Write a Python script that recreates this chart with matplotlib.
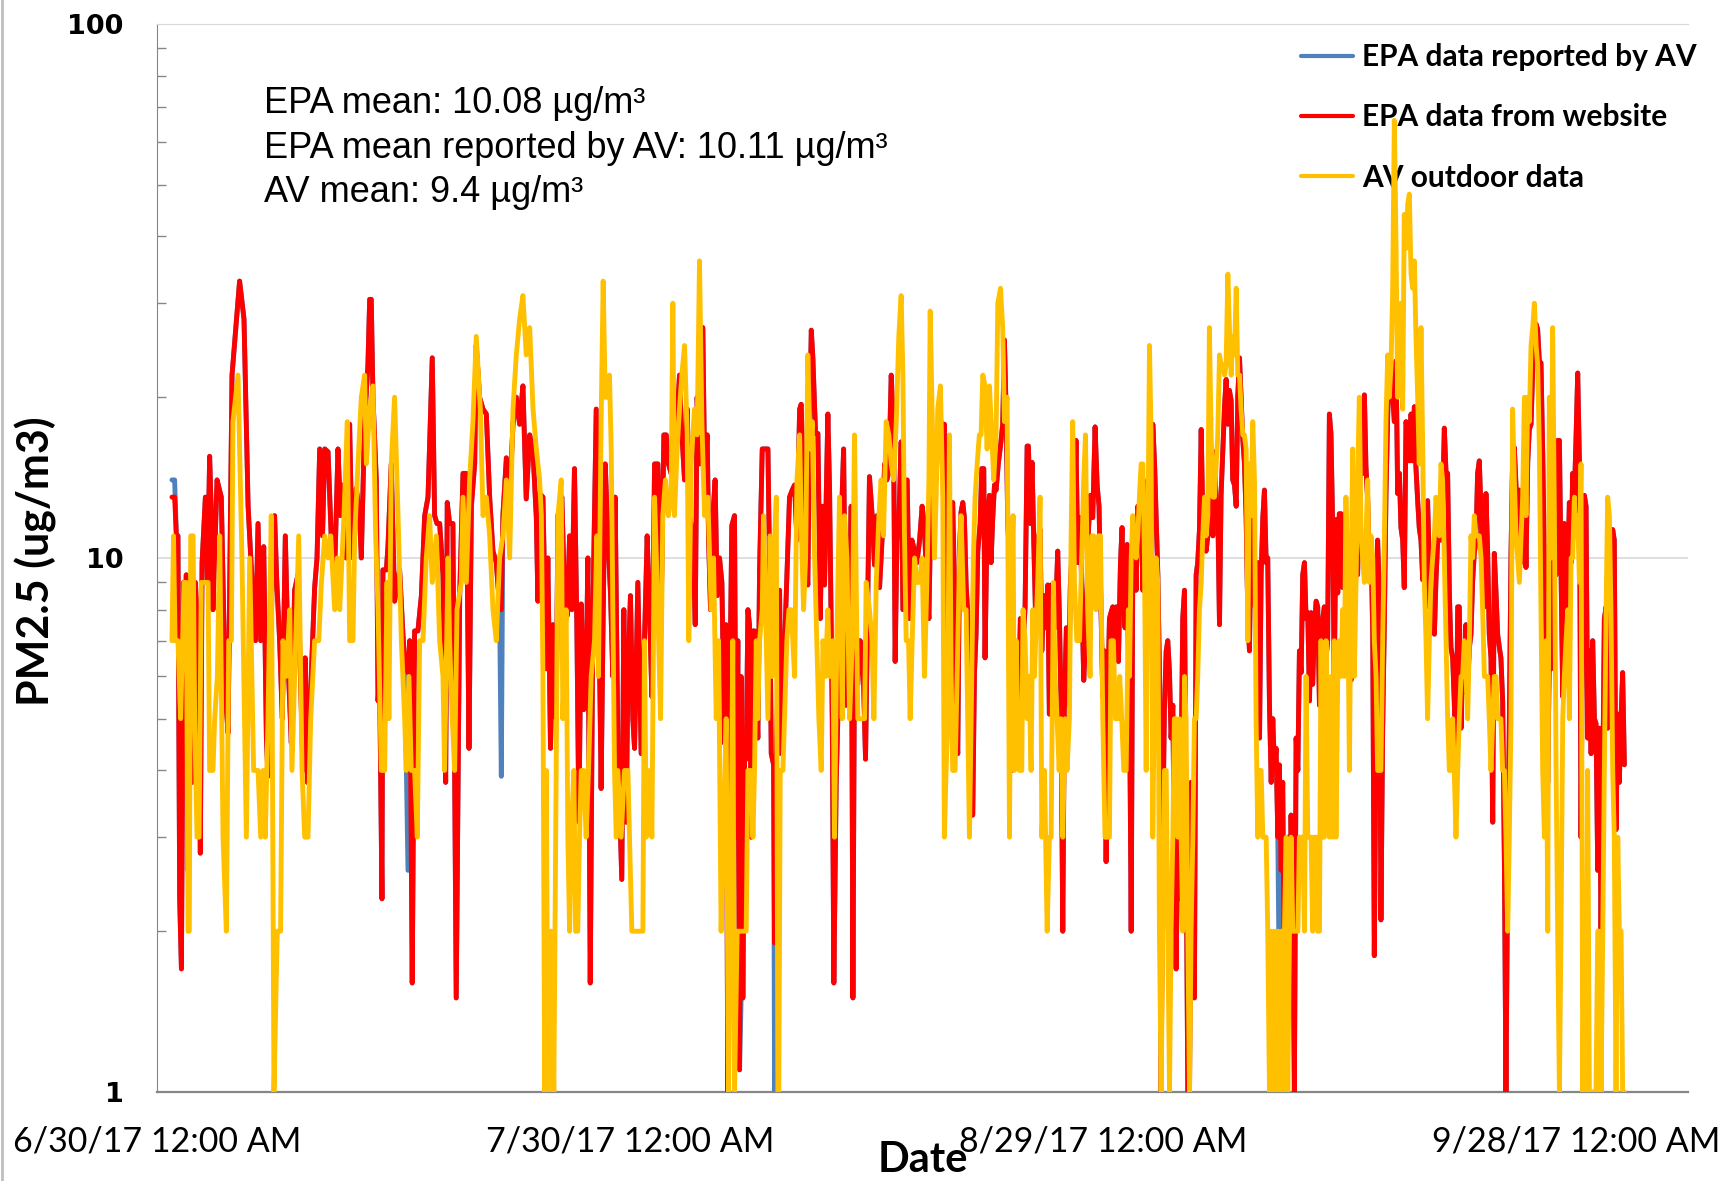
import matplotlib
matplotlib.use("Agg")
import matplotlib.pyplot as plt
from matplotlib.lines import Line2D
from matplotlib.ticker import FixedLocator, NullFormatter

# time axis: days after 6/30/17 12:00 AM
tick_days = [0, 30, 60, 90]
tick_labels = ["6/30/17 12:00 AM", "7/30/17 12:00 AM",
               "8/29/17 12:00 AM", "9/28/17 12:00 AM"]

# Sep/Oct stretch, both monitors read at the same times
tail_days = [
    61.68, 61.79, 61.89, 62.00, 62.10, 62.21, 62.31, 62.42, 62.53, 62.63,
    62.74, 62.84, 62.95, 63.05, 63.16, 63.27, 63.37, 63.48, 63.58, 63.69,
    63.79, 63.90, 64.01, 64.11, 64.22, 64.32, 64.43, 64.53, 64.64, 64.75,
    64.85, 64.96, 65.06, 65.17, 65.27, 65.38, 65.49, 65.59, 65.70, 65.80,
    65.91, 66.01, 66.12, 66.23, 66.33, 66.44, 66.54, 66.65, 66.75, 66.86,
    66.97, 67.07, 67.18, 67.28, 67.39, 67.49, 67.60, 67.71, 67.81, 67.92,
    68.02, 68.13, 68.23, 68.34, 68.45, 68.55, 68.66, 68.76, 68.87, 68.97,
    69.08, 69.19, 69.29, 69.40, 69.50, 69.61, 69.71, 69.82, 69.93, 70.03,
    70.14, 70.24, 70.35, 70.45, 70.56, 70.67, 70.77, 70.88, 70.98, 71.09,
    71.19, 71.30, 71.40, 71.51, 71.62, 71.72, 71.83, 71.93, 72.04, 72.14,
    72.25, 72.36, 72.46, 72.57, 72.67, 72.78, 72.88, 72.99, 73.10, 73.20,
    73.30, 73.41, 73.52, 73.62, 73.73, 73.83, 73.94,
    74.04, 74.15, 74.25, 74.36, 74.46, 74.57, 74.67, 74.78, 74.89, 74.99,
    75.10, 75.20, 75.31, 75.41, 75.52, 75.63, 75.73, 75.84, 75.94, 76.05,
    76.15, 76.26, 76.37, 76.47, 76.58, 76.68, 76.79, 76.89, 77.00, 77.11,
    77.21, 77.32, 77.42, 77.53, 77.63, 77.74, 77.85, 77.95, 78.06, 78.16,
    78.27, 78.37, 78.48, 78.59, 78.69, 78.80, 78.90, 79.01, 79.11, 79.22,
    79.33, 79.43, 79.54, 79.64, 79.75, 79.85, 79.96, 80.06, 80.17, 80.28,
    80.38, 80.49, 80.59, 80.70, 80.80, 80.91, 81.02, 81.12, 81.23, 81.33,
    81.44, 81.54, 81.65, 81.76, 81.86, 81.97, 82.07, 82.18, 82.28, 82.39,
    82.50, 82.60, 82.71, 82.81, 82.92, 83.02, 83.13, 83.24, 83.34, 83.45,
    83.55, 83.66, 83.76, 83.87, 83.98, 84.08, 84.19, 84.29, 84.40, 84.50,
    84.61, 84.72, 84.82, 84.93, 85.03, 85.14, 85.24, 85.35, 85.46, 85.56,
    85.67, 85.77, 85.88, 85.98, 86.09, 86.20, 86.30,
    86.41, 86.52, 86.62, 86.73, 86.83, 86.94, 87.04, 87.15, 87.26, 87.36,
    87.47, 87.57, 87.68, 87.78, 87.89, 88.00, 88.10, 88.21, 88.31, 88.42,
    88.52, 88.63, 88.74, 88.84, 88.95, 89.05, 89.16, 89.26, 89.37, 89.48,
    89.58, 89.69, 89.79, 89.90, 90.00, 90.11, 90.22, 90.32, 90.43, 90.53,
    90.64, 90.74, 90.85, 90.96, 91.06, 91.17, 91.27, 91.38, 91.48, 91.59,
    91.70, 91.80, 91.91, 92.01, 92.12, 92.22, 92.33, 92.43, 92.54, 92.65,
    92.75, 92.86, 92.96, 93.07,
]

# EPA monitor timestamps
epa_days = [
    0.95, 1.12, 1.23, 1.33, 1.44, 1.55, 1.69, 1.77, 1.86, 1.97,
    2.12, 2.24, 2.43, 2.60, 2.75, 2.86, 3.07, 3.20, 3.34, 3.45,
    3.55, 3.81, 4.08, 4.34, 4.51, 4.76, 5.24, 5.52, 5.78, 5.95,
    6.05, 6.25, 6.41, 6.58, 6.77, 6.94, 7.04, 7.19, 7.30, 7.46,
    7.60, 7.78, 7.95, 8.14, 8.35, 8.52, 8.73, 8.94, 9.10, 9.26,
    9.40, 9.54, 9.68, 10.0, 10.15, 10.32, 10.50, 10.64, 10.85, 11.06,
    11.25, 11.48, 11.65, 11.80, 12.0, 12.22,
    12.33, 12.43, 12.64, 12.85, 12.96, 13.17, 13.38, 13.49, 13.59, 13.70,
    13.91, 14.02, 14.12, 14.27, 14.33, 14.55, 14.65, 14.86, 15.07, 15.39,
    15.60, 15.71, 15.92, 16.03, 16.19, 16.34, 16.55, 16.77, 16.98, 17.19,
    17.46, 17.61, 17.76, 17.93, 18.14, 18.31, 18.41, 18.56, 18.77, 18.98,
    19.20, 19.41, 19.62, 19.79, 19.94, 20.15, 20.25, 20.46, 20.68, 20.89,
    21.10, 21.31, 21.52, 21.73, 21.84, 21.94, 22.16, 22.37, 22.58, 22.79,
    23.00, 23.21, 23.42, 23.64, 23.85, 24.06, 24.16, 24.27, 24.48,
    24.69, 24.79, 24.96, 25.11, 25.32, 25.43, 25.68, 25.85, 26.02, 26.17,
    26.31, 26.48, 26.63, 26.76, 26.91, 27.07, 27.22, 27.33, 27.48, 27.65,
    27.86, 28.03, 28.17, 28.28, 28.43, 28.60, 28.77, 28.91, 29.06, 29.23,
    29.48, 29.61, 29.76, 29.87, 30.03, 30.18, 30.29, 30.50, 30.71, 30.92,
    31.09, 31.24, 31.39, 31.56, 31.77, 31.98, 32.15, 32.30, 32.44, 32.72,
    32.93, 33.14, 33.25, 33.46, 33.63, 33.78, 33.99, 34.14, 34.26, 34.41,
    34.62, 34.73, 34.90, 34.98, 35.11, 35.26, 35.40, 35.53, 35.68, 35.83,
    35.99, 36.10, 36.20, 36.31, 36.46, 36.63, 36.74, 36.84, 36.95, 37.05,
    37.16, 37.27, 37.37, 37.48, 37.58, 37.69, 37.80, 37.90, 38.11, 38.22,
    38.39, 38.54, 38.75, 38.85, 38.96, 39.11, 39.17, 39.28, 39.49, 39.59,
    39.74, 39.91, 40.12, 40.29, 40.44, 40.59, 40.76, 40.86, 40.97, 41.07,
    41.28, 41.39, 41.50, 41.60, 41.77, 41.92, 42.07, 42.19, 42.34, 42.55,
    42.66, 42.83, 42.93, 43.08, 43.25, 43.40, 43.55, 43.71, 43.88, 44.03,
    44.14, 44.24, 44.45, 44.60, 44.77, 44.94, 45.09, 45.19, 45.36, 45.51,
    45.66, 45.83, 46.00, 46.15, 46.29, 46.42, 46.57, 46.72, 46.82, 46.93,
    47.05, 47.20, 47.31, 47.41, 47.58, 47.73, 47.88, 48.05, 48.20, 48.37,
    48.53, 48.68, 48.83, 48.96, 49.11, 49.25,
    49.31, 49.42, 49.52, 49.69, 49.84, 49.94, 50.05, 50.16, 50.26, 50.37,
    50.47, 50.58, 50.68, 50.79, 50.90, 51.00, 51.11, 51.21, 51.32, 51.42,
    51.53, 51.64, 51.74, 51.85, 51.95, 52.06, 52.21, 52.31, 52.44, 52.52,
    52.65, 52.80, 52.90, 53.01, 53.12, 53.22, 53.37, 53.50, 53.64, 53.75,
    53.86, 53.96, 54.13, 54.21, 54.34, 54.49, 54.64, 54.76, 54.91, 55.06,
    55.19, 55.27, 55.40, 55.50, 55.61, 55.72, 55.86, 56.01, 56.12, 56.24,
    56.37, 56.50, 56.60, 56.71, 56.81, 56.96, 57.13, 57.24, 57.34, 57.45,
    57.55, 57.68, 57.81, 57.93, 58.08, 58.19, 58.29, 58.40, 58.55, 58.68,
    58.78, 58.93, 59.08, 59.20, 59.35, 59.50, 59.63, 59.75, 59.88, 59.99,
    60.09, 60.20, 60.30, 60.41, 60.51, 60.62, 60.73, 60.85, 60.98, 61.11,
    61.21, 61.32, 61.40, 61.53, 61.63,
] + tail_days

# EPA data from website, ug/m3
epa_site = [
    13, 13, 11, 11, 2.3, 1.7, 9, 6, 9.3, 2.6,
    4.8, 3.8, 9, 7.4, 2.8, 9.8, 13, 9, 15.5, 12,
    8, 14, 13, 5.5, 4.7, 22, 33, 28, 12.5, 10,
    8.9, 7, 11.6, 7, 10.5, 4.6, 3.9, 6, 9, 12,
    9, 7, 5, 11, 6, 4.5, 8.7, 9.3, 6, 4,
    6.5, 3.8, 5, 8.8, 10, 16, 11, 16, 15.8, 10.8,
    9, 16, 12, 13.7, 10, 17.8,
    12, 10, 13.5, 12, 10, 18, 23, 30.5, 30.5, 20,
    14, 5.4, 6, 2.3, 9.5, 9.5, 10.5, 15, 8.3, 9.5,
    7.2, 6.4, 6.1, 7, 1.6, 7.3, 7.3, 8.5, 12, 13,
    23.7, 12, 11.6, 11.6, 9.3, 3.8, 12.7, 11.6, 11.6, 1.5,
    8.5, 14.4, 14.4, 4.4, 12.5, 15, 25, 20, 19, 18.6,
    13, 10.3, 9.8, 8.1, 8, 12, 15.4, 13, 17.8, 20,
    17.8, 21, 12.9, 17, 15.8, 11.9, 8.3, 13.2, 13,
    6.2, 10, 4.4, 7.5, 5, 12, 13, 8.5, 7.8, 11,
    8, 14.7, 7.5, 3.2, 8.2, 5.2, 6, 10, 1.6, 8,
    19, 8, 3.7, 7, 15, 11, 8.5, 6, 13, 4.5,
    2.5, 8, 3.2, 6, 8.5, 5, 4.4, 9, 4.3, 7,
    11, 8, 5.5, 15, 15, 8, 17, 17, 15, 14,
    17, 22, 18, 14, 19, 12, 11, 7.5, 20, 15,
    27, 15, 17, 11, 8, 12, 14, 8.5, 10, 9,
    4.5, 7.5, 1, 5, 11.5, 12, 3, 7, 1.1, 6,
    1.5, 4.2, 4.2, 8, 7.5, 3, 7.3, 7.3, 4.6, 9.5,
    16, 16, 16, 9.8, 4.3, 4.1, 1.9, 4.1, 8.7, 4.3,
    6, 8.5, 13, 13.4, 13.7, 10.8, 19, 19.4, 14.7, 10.8,
    8.9, 17.5, 26.7, 23.7, 17.1, 17.1, 7.7, 12.5, 8.9, 18.6,
    13.4, 5, 1.6, 3.8, 6, 11.6, 16, 5.3, 5.3, 12.5,
    1.5, 6.8, 5.8, 7, 6.6, 4.2, 8.8, 14.2, 12, 9.7,
    12, 8.8, 11, 15, 14, 14.5, 22, 17.1, 6.4, 10.8,
    11.6, 16.5, 8, 9.8, 14, 7.7, 10.8, 10.3, 9.8, 10.8,
    12.5, 11.4, 8.7, 7.7, 14, 14.2,
    15.1, 14, 17.4, 18.3, 16.6, 17.8, 8.7, 7, 4.7, 11.9,
    12.7, 8.9, 5, 4.3, 10.3, 12.2, 12.7, 11.9, 8.9, 7.9,
    6.4, 3.3, 3.3, 6.1, 7.2, 10.3, 11.6, 14.7, 14.7, 6.5,
    11.6, 13.1, 9.8, 11.9, 13.7, 13.4, 15.1, 16.2, 17.8, 25.6,
    18.7, 11.6, 9.3, 4, 6.4, 4.8, 5.1, 7.7, 6.7, 8.1,
    16.2, 16.2, 11.6, 15.1, 10.8, 7.9, 10.8, 11.3, 6.7, 8.5,
    7.4, 8.9, 5.1, 8.9, 7.9, 7.4, 10.3, 7.7, 5.3, 2,
    5.3, 7.4, 5.3, 8.9, 10.8, 11.9, 16.6, 9.8, 11.9, 8.1,
    5.9, 7.4, 11.3, 13.1, 11.9, 17.6, 13.7, 12.5, 7.9, 5.5,
    6.7, 2.7, 5.3, 7.7, 7.9, 8.1, 6.7, 8.1, 6.4, 9.8,
    11.4, 8.1, 7.4, 10.6, 5.9,
    5.8, 2, 9.5, 11.3, 8.7, 12.5, 11.9, 12.7, 8.7, 11,
    10.8, 14, 13.1, 9.3, 17.8, 15.1, 11.9, 9.3, 6.2, 1,
    3, 5.3, 6.7, 7, 6.1, 4.6, 5.3, 2.7, 1.7, 3,
    2.3, 4.1, 7.7, 8.7, 3, 1, 1, 3.8, 3, 1.5,
    9.3, 9.8, 11.3, 17.4, 11.9, 12.5, 10.3, 11, 12.5, 15.1,
    11, 15.8, 12.7, 12.5, 7.5, 13.1, 15.8, 19.2, 21.6, 17.8,
    20.6, 19.7, 14, 13.7, 12.5, 20.1, 23.7, 20.1, 16.6, 15.1,
    11.9, 7.7, 6.7, 11.3, 13.1, 8.5, 7.7, 9.8, 4.6, 9.3,
    11.9, 13.4, 9.8, 10, 5.3, 3.8, 5, 4, 4.4, 3,
    4.1, 2.6, 3.8, 1.5, 2.4, 3, 1.8, 3.3, 2.3, 1,
    4.6, 4, 6.7, 6.1, 9.3, 9.8, 7.7, 7.9, 5.4, 7.9,
    5.8, 7.4, 8.3, 8.1, 5.3, 7.4, 7.7,
    8.1, 6.5, 7, 18.6, 17.1, 11.4, 5.9, 11.8, 8.6, 12.1,
    12.1, 8.8, 12.1, 9.6, 8.3, 7, 5.9, 7.9, 11.4, 9.6,
    9.3, 12.8, 19.2, 14.4, 20.2, 14.8, 12.8, 9.6, 10.8, 7.2,
    1.8, 4.8, 10.8, 8.6, 2.1, 4.8, 7.7, 13.2, 18.6, 22.7,
    21.4, 20.2, 18, 23.4, 13.2, 14.4, 11.4, 10.8, 8.8, 18,
    17.1, 15.2, 18.6, 15.2, 19.2, 14.8, 12.8, 11.4, 10.8, 9.1,
    9.6, 8.1, 12.8, 9.6, 8.6, 7.7, 7.2, 9.1, 10.8, 11.4,
    10.8, 12.4, 17.5, 14.4, 14.4, 8.6, 6.8, 6.5, 5.4, 3.9,
    8.1, 8.1, 4.8, 6.5, 5.6, 7.5, 5.8, 6.8, 7.2, 9.1,
    10.2, 10.8, 14.4, 15.2, 12.1, 9.6, 8.1, 13.2, 10.2, 7.2,
    6.5, 3.2, 10.2, 8.6, 7.2, 6.8, 6.5, 5.4, 2.7, 1,
    2.7, 4.8, 10.2, 15.2, 16.1, 13.6, 11.4,
    13.4, 9.8, 10.8, 13.1, 9.6, 15.1, 17.4, 17.8, 22.7, 25,
    27.4, 26.8, 23.2, 23.2, 15.8, 9.8, 7, 3.8, 6.7, 6.2,
    9.8, 12.5, 9.3, 16.6, 16.6, 9.6, 5.5, 11.6, 6.1, 9.3,
    12.7, 9.8, 14.4, 13.1, 16.6, 22.2, 15.1, 3, 8.9, 13.1,
    12.5, 4.6, 6.7, 4.3, 7, 5, 4.9, 2.6, 4.8, 2,
    3.8, 7.7, 8.1, 4.8, 7.4, 10.8, 11.3, 10.8, 3.1, 5.1,
    3.8, 5, 6.1, 4.1,
]

# EPA data as reported by AV, ug/m3
epa_av = [
    14, 14, 11, 11, 2.3, 1.7, 9, 6, 9.3, 2.6,
    4.8, 3.8, 9, 7.4, 2.8, 9.8, 13, 9, 15.5, 12,
    8, 14, 13, 5.5, 4.7, 22, 33, 28, 12.5, 10,
    8.9, 7, 11.6, 7, 10.5, 4.6, 3.9, 6, 9, 12,
    9, 7, 5, 11, 6, 4.5, 8.7, 9.3, 6, 4,
    6.5, 3.8, 5, 8.8, 10, 16, 11, 16, 15.8, 10.8,
    9, 16, 12, 13.7, 10, 17.8,
    12, 10, 13.5, 12, 10, 18, 23, 30.5, 30.5, 20,
    14, 5.4, 6, 2.3, 9.5, 9.5, 10.5, 15, 8.3, 9.5,
    7.2, 6.4, 2.6, 7, 1.6, 7.3, 7.3, 8.5, 12, 13,
    23.7, 12, 11.6, 11.6, 9.3, 3.8, 12.7, 11.6, 11.6, 1.5,
    8.5, 14.4, 14.4, 4.4, 12.5, 15, 25, 20, 19, 18.6,
    13, 10.3, 9.8, 8.1, 3.9, 12, 15.4, 13, 17.8, 20,
    17.8, 21, 12.9, 17, 15.8, 11.9, 8.3, 13.2, 13,
    6.2, 10, 4.4, 7.5, 5, 12, 13, 8.5, 7.8, 11,
    8, 14.7, 7.5, 3.2, 8.2, 5.2, 6, 10, 1.6, 8,
    19, 8, 3.7, 7, 15, 11, 8.5, 6, 13, 4.5,
    2.5, 8, 3.2, 6, 8.5, 5, 4.4, 9, 4.3, 7,
    11, 8, 5.5, 15, 15, 8, 17, 17, 15, 14,
    17, 22, 18, 14, 19, 12, 11, 7.5, 20, 15,
    27, 15, 17, 11, 8, 12, 14, 8.5, 10, 9,
    4.5, 7.5, 1, 5, 11.5, 12, 3, 7, 1.1, 1.5,
    1.5, 4.2, 4.2, 8, 7.5, 3, 7.3, 7.3, 4.6, 9.5,
    16, 16, 16, 9.8, 4.3, 4.1, 1, 4.1, 8.7, 4.3,
    6, 8.5, 13, 13.4, 13.7, 10.8, 19, 19.4, 14.7, 10.8,
    8.9, 17.5, 26.7, 23.7, 17.1, 17.1, 7.7, 12.5, 8.9, 18.6,
    13.4, 5, 1.6, 3.8, 6, 11.6, 16, 5.3, 5.3, 12.5,
    1.5, 6.8, 5.8, 7, 6.6, 4.2, 8.8, 14.2, 12, 9.7,
    12, 8.8, 11, 15, 14, 14.5, 22, 17.1, 6.4, 10.8,
    11.6, 16.5, 8, 9.8, 14, 7.7, 10.8, 10.3, 9.8, 10.8,
    12.5, 11.4, 8.7, 7.7, 14, 14.2,
    15.1, 14, 17.4, 18.3, 16.6, 17.8, 8.7, 7, 4.7, 11.9,
    12.7, 8.9, 5, 4.3, 10.3, 12.2, 12.7, 11.9, 8.9, 7.9,
    6.4, 3.3, 3.3, 6.1, 7.2, 10.3, 11.6, 14.7, 14.7, 6.5,
    11.6, 13.1, 9.8, 11.9, 13.7, 13.4, 15.1, 16.2, 17.8, 25.6,
    18.7, 11.6, 9.3, 4, 6.4, 4.8, 5.1, 7.7, 6.7, 8.1,
    16.2, 16.2, 11.6, 15.1, 10.8, 7.9, 10.8, 11.3, 6.7, 8.5,
    7.4, 8.9, 5.1, 8.9, 7.9, 7.4, 10.3, 7.7, 5.3, 2,
    5.3, 7.4, 5.3, 8.9, 10.8, 11.9, 16.6, 9.8, 11.9, 8.1,
    5.9, 7.4, 11.3, 13.1, 11.9, 17.6, 13.7, 12.5, 7.9, 5.5,
    6.7, 2.7, 5.3, 7.7, 7.9, 8.1, 6.7, 8.1, 6.4, 9.8,
    11.4, 8.1, 7.4, 10.6, 5.9,
    5.8, 2, 9.5, 11.3, 8.7, 12.5, 11.9, 12.7, 8.7, 11,
    10.8, 14, 13.1, 9.3, 17.8, 15.1, 11.9, 9.3, 6.2, 1,
    3, 5.3, 6.7, 7, 6.1, 4.6, 5.3, 2.7, 1.7, 3,
    2.3, 4.1, 7.7, 8.7, 3, 1, 1, 3.8, 3, 1.5,
    9.3, 9.8, 11.3, 17.4, 11.9, 12.5, 10.3, 11, 12.5, 15.1,
    11, 15.8, 12.7, 12.5, 7.5, 13.1, 15.8, 19.2, 21.6, 17.8,
    20.6, 19.7, 14, 13.7, 12.5, 20.1, 23.7, 20.1, 16.6, 15.1,
    11.9, 7.7, 6.7, 11.3, 13.1, 8.5, 7.7, 9.8, 4.6, 9.3,
    11.9, 13.4, 9.8, 10, 5.3, 3.8, 5, 4, 4.4, 3,
    1.5, 2.6, 3.8, 1.5, 2.4, 3, 1.8, 3.3, 2.3, 1,
    4.6, 4, 6.7, 6.1, 9.3, 9.8, 7.7, 7.9, 5.4, 7.9,
    5.8, 7.4, 8.3, 8.1, 5.3, 7.4, 7.7,
    8.1, 6.5, 7, 18.6, 17.1, 11.4, 5.9, 11.8, 8.6, 12.1,
    12.1, 8.8, 12.1, 9.6, 8.3, 7, 5.9, 7.9, 11.4, 9.6,
    9.3, 12.8, 19.2, 14.4, 20.2, 14.8, 12.8, 9.6, 10.8, 7.2,
    1.8, 4.8, 10.8, 8.6, 2.1, 4.8, 7.7, 13.2, 18.6, 22.7,
    21.4, 20.2, 18, 23.4, 13.2, 14.4, 11.4, 10.8, 8.8, 18,
    17.1, 15.2, 18.6, 15.2, 19.2, 14.8, 12.8, 11.4, 10.8, 9.1,
    9.6, 8.1, 12.8, 9.6, 8.6, 7.7, 7.2, 9.1, 10.8, 11.4,
    10.8, 12.4, 17.5, 14.4, 14.4, 8.6, 6.8, 6.5, 5.4, 3.9,
    8.1, 8.1, 4.8, 6.5, 5.6, 7.5, 5.8, 6.8, 7.2, 9.1,
    10.2, 10.8, 14.4, 15.2, 12.1, 9.6, 8.1, 13.2, 10.2, 7.2,
    6.5, 3.2, 10.2, 8.6, 7.2, 6.8, 6.5, 5.4, 2.7, 1,
    2.7, 4.8, 10.2, 15.2, 16.1, 13.6, 11.4,
    13.4, 9.8, 10.8, 13.1, 9.6, 15.1, 17.4, 17.8, 22.7, 25,
    27.4, 26.8, 23.2, 23.2, 15.8, 9.8, 7, 3.8, 6.7, 6.2,
    9.8, 12.5, 9.3, 16.6, 16.6, 9.6, 5.5, 11.6, 6.1, 9.3,
    12.7, 9.8, 14.4, 13.1, 16.6, 22.2, 15.1, 3, 8.9, 13.1,
    12.5, 4.6, 6.7, 4.3, 7, 5, 4.9, 2.6, 4.8, 2,
    3.8, 7.7, 8.1, 4.8, 7.4, 10.8, 11.3, 10.8, 3.1, 5.1,
    3.8, 5, 6.1, 4.1,
]

# AV outdoor sensor timestamps
av_days = [
    0.95, 1.05, 1.15, 1.33, 1.50, 1.72, 1.86, 1.97, 2.05, 2.14,
    2.29, 2.39, 2.54, 2.67, 2.81, 3.24, 3.34, 3.55, 3.66, 3.83,
    3.98, 4.19, 4.40, 4.55, 4.72, 4.82, 5.14, 5.39, 5.67, 5.88,
    6.13, 6.41, 6.58, 6.73, 6.87, 7.04, 7.25, 7.42, 7.63, 7.84,
    7.99, 8.20, 8.42, 8.56, 8.73, 8.99, 9.20, 9.37, 9.58, 9.75,
    10.0, 10.26, 10.43, 10.64, 10.85, 11.02, 11.27, 11.44, 11.59, 11.86,
    12.07,
    12.22, 12.43, 12.54, 12.75, 12.96, 13.17, 13.28, 13.49, 13.70, 13.87,
    14.02, 14.23, 14.44, 14.59, 14.71, 14.86, 15.07, 15.29, 15.50, 15.71,
    15.81, 15.98, 16.13, 16.34, 16.51, 16.66, 16.87, 17.08, 17.29, 17.46,
    17.72, 17.93, 18.14, 18.24, 18.46, 18.56, 18.73, 18.88, 19.03, 19.30,
    19.41, 19.62, 19.83, 20.04, 20.25, 20.51, 20.68, 20.89, 21.10, 21.31,
    21.52, 21.73, 21.94, 22.16, 22.37, 22.58, 22.79, 23.00, 23.21, 23.42,
    23.64, 23.85, 24.06, 24.27, 24.38, 24.48, 24.59, 24.69, 24.80,
    25.00, 25.17, 25.32, 25.43, 25.64, 25.74, 25.95, 26.06, 26.17, 26.27,
    26.44, 26.55, 26.69, 26.80, 26.91, 27.07, 27.22, 27.37, 27.54, 27.75,
    27.90, 28.00, 28.17, 28.30, 28.43, 28.55, 28.70, 28.81, 29.02, 29.13,
    29.23, 29.44, 29.65, 29.87, 29.97, 30.12, 30.39, 30.82, 30.92, 31.03,
    31.24, 31.39, 31.56, 31.77, 31.94, 32.08, 32.25, 32.44, 32.61, 32.72,
    32.82, 32.99, 33.14, 33.29, 33.46, 33.63, 33.73, 33.88, 34.09, 34.26,
    34.41, 34.56, 34.73, 34.94, 35.15, 35.30, 35.47, 35.62, 35.78, 35.93,
    36.10, 36.25, 36.42, 36.52, 36.63, 36.80,
    37.00, 37.37, 37.48, 37.69, 37.80, 37.90, 38.01, 38.11, 38.22, 38.39,
    38.47, 38.60, 38.75, 38.89, 39.00, 39.13, 39.28, 39.38, 39.44, 39.53,
    39.70, 39.80, 39.95, 40.08, 40.23, 40.33, 40.44, 40.59, 40.76, 40.88,
    41.01, 41.14, 41.28, 41.43, 41.56, 41.71, 41.85, 41.98, 42.13, 42.24,
    42.40, 42.55, 42.66, 42.87, 42.97, 43.12, 43.29, 43.46, 43.61, 43.76,
    43.93, 44.10, 44.24, 44.35, 44.45, 44.73, 44.88, 44.98, 45.19, 45.36,
    45.47, 45.62, 45.79, 45.93, 46.08, 46.25, 46.42, 46.57, 46.72, 46.89,
    47.05, 47.20, 47.31, 47.41, 47.52, 47.67, 47.77, 47.90, 48.05, 48.20,
    48.37, 48.53, 48.68, 48.83, 48.96, 49.04, 49.21,
    49.31, 49.42, 49.52, 49.69, 49.84, 49.94, 50.05, 50.16, 50.26, 50.37,
    50.47, 50.62, 50.75, 50.90, 51.00, 51.17, 51.32, 51.42, 51.53, 51.64,
    51.78, 51.89, 52.02, 52.16, 52.27, 52.38, 52.52, 52.65, 52.80, 52.95,
    53.07, 53.22, 53.33, 53.50, 53.64, 53.75, 53.92, 54.07, 54.17, 54.30,
    54.38, 54.49, 54.60, 54.70, 54.85, 54.93, 55.06, 55.19, 55.31, 55.44,
    55.55, 55.65, 55.86, 56.01, 56.12, 56.29, 56.46, 56.60, 56.71, 56.86,
    56.96, 57.09, 57.22, 57.34, 57.45, 57.60, 57.72, 57.87, 57.98, 58.08,
    58.19, 58.34, 58.51, 58.65, 58.78, 58.89, 59.03, 59.18, 59.29, 59.41,
    59.56, 59.71, 59.84, 59.99, 60.13, 60.26, 60.41, 60.51, 60.66, 60.79,
    60.94, 61.06, 61.19, 61.32, 61.47, 61.61,
] + tail_days

# AV outdoor data, whole ug/m3
av_outdoor = [
    7, 11, 7, 7, 5, 9, 9, 2, 2, 11,
    11, 5, 3, 3, 9, 9, 4, 4, 5, 6,
    11, 3, 2, 7, 7, 18, 22, 10, 3, 10,
    4, 4, 3, 4, 3, 5, 12, 1, 2, 2,
    7, 6, 8, 4, 6, 11, 4, 3, 3, 5,
    7, 7, 9, 11, 10, 11, 8, 10, 8, 12,
    18,
    7, 7, 11, 15, 20, 22, 15, 19, 21, 11,
    8, 4, 4, 9, 5, 15, 20, 12, 7, 5,
    4, 6, 4, 4, 3, 7, 7, 10, 12, 9,
    11, 7, 6, 4, 10, 7, 5, 4, 8, 9,
    13, 9, 14, 18, 26, 19, 12, 13, 11, 8,
    7, 10, 11, 14, 10, 19, 24, 28, 31, 24,
    27, 19, 16, 14, 12, 6, 1, 4, 1,
    2, 1, 4, 12, 14, 5, 8, 3, 2, 3,
    4, 2, 2, 3, 4, 4, 3, 4, 6, 7,
    11, 6, 18, 33, 20, 20, 22, 16, 4, 3,
    4, 3, 4, 4, 3, 2, 2, 2, 7, 3,
    4, 3, 13, 8, 5, 12, 14, 12, 13, 30,
    12, 16, 19, 22, 25, 17, 7, 15, 19, 17,
    36, 18, 12, 13, 8, 10, 5, 7, 2, 3,
    5, 1, 3, 7, 1, 2,
    2, 2, 4, 4, 3, 4, 7, 5, 7, 8,
    12, 8, 5, 11, 6, 10, 13, 1, 1, 4,
    4, 5, 7, 8, 8, 7, 6, 14, 17, 11,
    8, 10, 24, 16, 18, 10, 7, 5, 4, 7,
    6, 8, 6, 7, 3, 7, 13, 5, 12, 10,
    5, 7, 17, 9, 5, 5, 5, 9, 8, 7,
    5, 9, 12, 14, 11, 18, 17, 15, 14, 18,
    26, 31, 22, 11, 7, 7, 5, 7, 10, 9,
    9, 10, 6, 9, 14, 29, 16,
    10, 13, 19, 21, 13, 3, 4, 5, 17, 6,
    4, 4, 6, 10, 12, 8, 8, 5, 3, 5,
    10, 13, 15, 17, 17, 22, 21, 16, 21, 17,
    14, 17, 30, 32, 27, 18, 20, 3, 9, 12,
    4, 7, 5, 4, 4, 8, 7, 5, 6, 4,
    8, 6, 9, 13, 3, 4, 2, 3, 3, 9,
    6, 5, 4, 5, 3, 5, 4, 5, 11, 18,
    9, 7, 7, 10, 14, 17, 8, 6, 11, 11,
    8, 11, 11, 5, 3, 3, 3, 7, 7, 5,
    5, 6, 5, 4, 4, 8,
    6, 10, 12, 11, 10, 11, 13, 15, 15, 10,
    4, 10, 25, 17, 3, 6, 10, 9, 2, 1,
    2, 4, 4, 2, 1, 2, 3, 5, 5, 3,
    5, 3, 2, 6, 5, 2, 1, 2, 3, 5,
    5, 6, 8, 9, 11, 13, 11, 12, 27, 17,
    13, 13, 15, 17, 24, 23, 23, 22, 23, 34,
    27, 22, 26, 24, 32, 22, 22, 19, 17, 17,
    16, 7, 15, 12, 18, 14, 5, 3, 4, 4,
    3, 3, 3, 2, 1, 2, 1, 2, 1, 2,
    1, 2, 1, 2, 3, 1, 2, 3, 2, 2,
    2, 2, 3, 3, 3, 2, 6, 3, 3, 3,
    2, 3, 3, 2, 2, 7, 3,
    3, 7, 4, 3, 6, 3, 7, 3, 6, 7,
    6, 8, 6, 13, 9, 4, 9, 16, 6, 9,
    14, 20, 11, 10, 9, 11, 14, 9, 11, 10,
    7, 6, 4, 4, 4, 7, 11, 18, 24, 20,
    23, 31, 66, 38, 20, 26, 30, 19, 44, 38,
    46, 48, 34, 32, 36, 26, 20, 15, 27, 16,
    9, 7, 5, 7, 9, 10, 11, 13, 12, 11,
    15, 14, 10, 7, 5, 4, 4, 5, 4, 3,
    4, 5, 6, 6, 7, 6, 5, 7, 11, 10,
    12, 11, 11, 11, 10, 8, 6, 6, 6, 5,
    4, 5, 6, 6, 5, 5, 5, 4, 4, 3,
    2, 3, 5, 19, 14, 11, 10,
    9, 11, 13, 20, 12, 20, 18, 25, 27, 30,
    25, 23, 16, 8, 4, 3, 7, 2, 20, 10,
    27, 12, 4, 2, 1, 2, 5, 6, 7, 8,
    5, 10, 10, 13, 11, 12, 9, 15, 1, 2,
    1, 4, 1, 1, 1, 1, 1, 2, 2, 1,
    2, 4, 8, 13, 12, 8, 4, 3, 1, 3,
    2, 2, 1, 1,
]

assert len(epa_days) == len(epa_site) == len(epa_av)
assert len(av_days) == len(av_outdoor)

mean_lines = [
    "EPA mean: 10.08 \u00b5g/m\u00b3",
    "EPA mean reported by AV: 10.11 \u00b5g/m\u00b3",
    "AV mean: 9.4 \u00b5g/m\u00b3",
]

fig = plt.figure(figsize=(17.25, 11.81), dpi=100)
ax = fig.add_axes([0.091, 0.0754, 0.8875, 0.9043])

line_kw = dict(lw=3.5, solid_joinstyle="round", solid_capstyle="round")
ax.plot(epa_days, epa_av, color="#4F81BD", label="EPA data reported by AV",
        zorder=3, **line_kw)
ax.plot(epa_days, epa_site, color="#FF0000", label="EPA data from website",
        zorder=4, **line_kw)
ax.plot(av_days, av_outdoor, color="#FFC000", label="AV outdoor data",
        zorder=5, **line_kw)

ax.set_yscale("log")
ax.set_ylim(1, 100)
ax.set_xlim(0, 97.1)
ax.axhline(10, color="#D9D9D9", lw=1.2, zorder=1)

ax.spines["right"].set_visible(False)
ax.spines["top"].set_color("#D9D9D9")
ax.spines["left"].set_color("#868686")
ax.spines["bottom"].set_color("#868686")
ax.spines["bottom"].set_linewidth(1.6)

# log axis: only decade labels, short inside ticks between them
ax.yaxis.set_major_locator(FixedLocator([1, 10, 100]))
ax.yaxis.set_minor_locator(FixedLocator(
    [2, 3, 4, 5, 6, 7, 8, 9, 20, 30, 40, 50, 60, 70, 80, 90]))
ax.yaxis.set_minor_formatter(NullFormatter())
ax.set_yticklabels(["1", "10", "100"], fontfamily="DejaVu Sans",
                   fontweight="bold", fontsize=19.5)
ax.tick_params(axis="y", which="major", length=0, pad=24)
ax.tick_params(axis="y", which="minor", direction="in", length=6.5,
               width=1, color="#868686")

ax.set_xticks(tick_days)
ax.set_xticklabels(tick_labels, fontfamily="Lato", fontsize=24.5)
ax.tick_params(axis="x", length=0, pad=24)

ax.set_xlabel("Date", fontfamily="Lato", fontweight="bold", fontsize=30)
ax.xaxis.set_label_coords(0.5, -0.046)
ax.set_ylabel("PM2.5 (ug/m3)", fontfamily="Lato", fontweight="bold",
              fontsize=31, va="center")
ax.yaxis.set_label_coords(-0.079, 0.497)

for txt, y in zip(mean_lines, [0.9167, 0.8745, 0.8333]):
    ax.text(0.0699, y, txt, transform=ax.transAxes, ha="left", va="baseline",
            fontfamily="Liberation Sans", fontsize=26)

leg = ax.legend(loc="upper left", bbox_to_anchor=(0.747, 0.982),
                frameon=False, borderaxespad=0, borderpad=0,
                handlelength=1.75, handletextpad=0.3, labelspacing=1.08,
                prop={"family": "Lato", "weight": "bold", "size": 21.5})
for h in leg.get_lines():
    h.set_linewidth(3)
leg.set_zorder(2)

# thin outer chart border on the left
fig.add_artist(Line2D([0.0012, 0.0012], [0, 1], transform=fig.transFigure,
                      color="#BFBFBF", lw=2))

fig.savefig("out.png", dpi=100)
